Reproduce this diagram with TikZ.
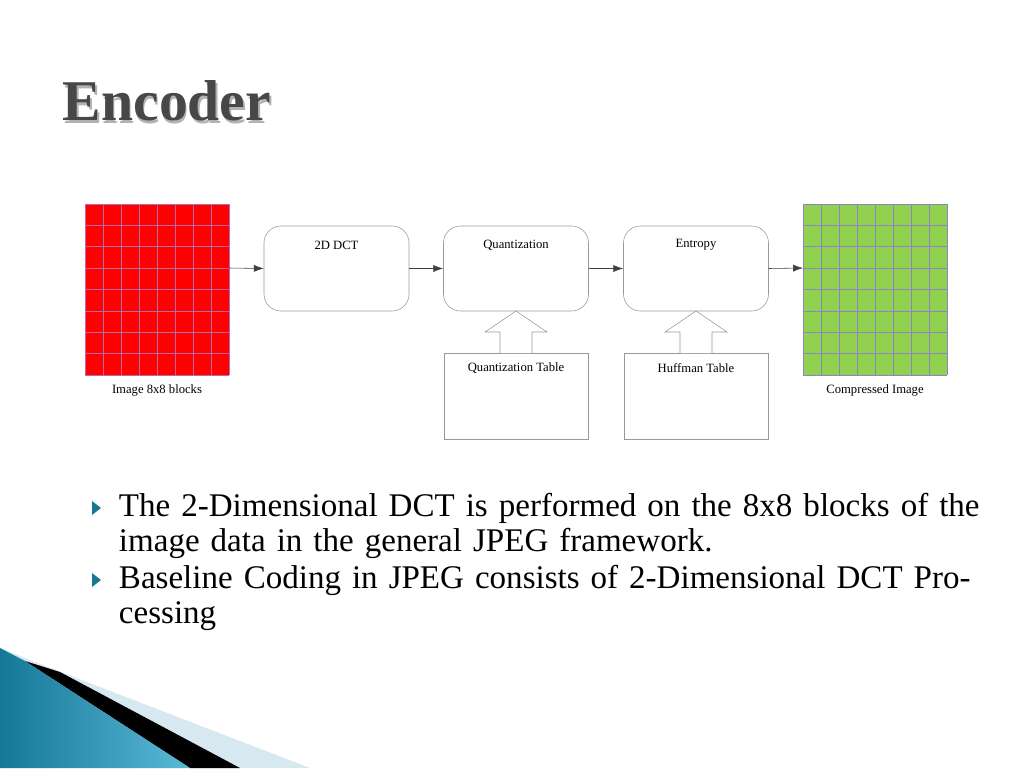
\documentclass[tikz,border=0pt]{standalone}
\usepackage{fontspec}
\setmainfont{Liberation Serif}
\usetikzlibrary{shadows}
\definecolor{teal1}{RGB}{20,120,150}
\definecolor{teal2}{RGB}{90,185,215}
\definecolor{lightband}{RGB}{215,232,240}
\definecolor{gridred}{RGB}{255,0,0}
\definecolor{gridgreen}{RGB}{146,208,80}
\tikzset{
  stage/.style={draw=gray!80, rounded corners=12pt, minimum width=145*0.25mm, minimum height=85*0.25mm, font=\fontsize{9}{11}\selectfont},
  table/.style={draw=gray!80, minimum width=144*0.25mm, minimum height=86*0.25mm, font=\fontsize{9}{11}\selectfont},
  flow/.style={draw=black!75, -{Latex[length=7pt,width=5pt]}},
  blockup/.style={draw=gray!80, fill=white},
  caption/.style={font=\fontsize{9}{11}\selectfont},
  bullet/.style={font=\fontsize{23.5}{24.8}\selectfont, align=left, anchor=north west, text width=880*0.25mm}
}
\usetikzlibrary{arrows.meta}
\begin{document}
\begin{tikzpicture}[x=0.25mm, y=-0.25mm]
    \useasboundingbox (0,0) rectangle (1024,768);

    % title
    \node[anchor=west, text=black!30, font=\fontsize{41}{43}\selectfont\bfseries] at (59.5,103.5) {Encoder};
    \node[anchor=west, text=black!72, font=\fontsize{41}{43}\selectfont\bfseries] (title) at (58,101) {Encoder};

    % image blocks
    \fill[gridred] (85,204) rectangle (229,375);
    \foreach \i in {0,...,8} \draw[blue!45!red!60] (85+\i*18,204) -- (85+\i*18,375);
    \foreach \j in {0,...,8} \draw[blue!45!red!60] (85,204+\j*21.375) -- (229,204+\j*21.375);
    \coordinate (imgout) at (229,268);
    \node[caption] (imgcap) at (157,390) {Image 8x8 blocks};

    \fill[gridgreen] (803,204) rectangle (947,375);
    \foreach \i in {0,...,8} \draw[blue!35!gray!70] (803+\i*18,204) -- (803+\i*18,375);
    \foreach \j in {0,...,8} \draw[blue!35!gray!70] (803,204+\j*21.375) -- (947,204+\j*21.375);
    \coordinate (cmpin) at (803,268);
    \node[caption] (cmpcap) at (875,390) {Compressed Image};

    % stages
    \node[stage] (dct) at (336.5,268.5) {};
    \node[caption] at (336.5,245) {2D DCT};
    \node[stage] (quant) at (516,268.5) {};
    \node[caption] at (516,245) {Quantization};
    \node[stage] (entropy) at (696,268.5) {};
    \node[caption] at (696,245) {Entropy};

    \node[table] (qtable) at (516,396) {};
    \node[caption] at (516,368) {Quantization Table};
    \node[table] (htable) at (696,396) {};
    \node[caption] at (696,368) {Huffman Table};

    \draw[flow] (imgout) -- (dct.west);
    \draw[flow] (dct) -- (quant);
    \draw[flow] (quant) -- (entropy);
    \draw[flow] (entropy.east) -- (cmpin);

    % block arrows
    \foreach \cx in {516,696}
      \draw[blockup] (\cx-16,353) -- (\cx-16,332) -- (\cx-31,332) -- (\cx,311)
        -- (\cx+31,332) -- (\cx+16,332) -- (\cx+16,353);

    % bullets
    \fill[teal1] (92,501) -- (101,508) -- (92,515) -- cycle;
    \fill[teal1] (92,573) -- (101,580) -- (92,587) -- cycle;
    \node[bullet] (b1) at (114,488) {\raggedright The 2-Dimensional DCT is performed on the 8x8 blocks of the image data in the general JPEG framework.};
    \node[bullet] (b2) at (114,560) {\raggedright Baseline Coding in JPEG consists of 2-Dimensional DCT Processing};

    % corner decoration
    \fill[lightband] (0,648) -- (30,660) -- (310,768) -- (0,768) -- cycle;
    \fill[black] (25,661) -- (60,672) -- (240,768) -- (190,768) -- cycle;
    \shade[left color=teal1, right color=teal2] (0,648) -- (25,661) -- (190,768) -- (0,768) -- cycle;
\end{tikzpicture}
\end{document}
